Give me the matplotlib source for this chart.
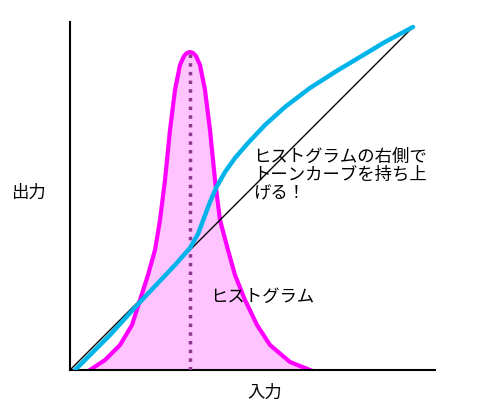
import matplotlib
matplotlib.use("Agg")
import matplotlib.pyplot as plt

plt.rcParams['font.family'] = ['Noto Sans CJK JP', 'DejaVu Sans']

# diagonal (identity) line
diag_x = [0, 343]
diag_y = [0, 343]

# tone curve
curve_x = [5, 40, 70, 105, 120, 128, 134, 140, 146, 155, 165, 178, 195, 215, 240, 265, 290, 315, 343]
curve_y = [0, 35, 68, 105, 122, 136, 152, 168, 182, 198, 212, 227, 245, 263, 282, 298, 313, 328, 343]

# histogram
hist_x = [20, 35, 50, 62, 70, 78, 85, 90, 95, 100, 105, 110, 114, 117, 120, 123, 126, 130, 135, 140, 145, 150, 158, 165, 175, 187, 200, 220, 240]
hist_y = [0, 10, 25, 45, 70, 95, 120, 150, 190, 240, 280, 305, 314, 317, 318, 317, 314, 305, 280, 240, 190, 150, 120, 95, 70, 45, 25, 8, 0]
peak_x = 120
peak_y = 318

fig = plt.figure(figsize=(4.8, 4.18), dpi=100)
ax = fig.add_axes([70/480, 48/418, 365/480, 348/418])

ax.fill_between(hist_x, hist_y, color='#FFC4FF', zorder=1)
ax.plot(hist_x, hist_y, color='#FF00FF', lw=3, zorder=2)
ax.plot([peak_x, peak_x], [0, peak_y], color='#8B3A8B', lw=2.5, ls=(0, (1, 1.5)), zorder=3)
ax.plot(diag_x, diag_y, color='black', lw=1, zorder=4)
ax.plot(curve_x, curve_y, color='#00B4EA', lw=3.2, solid_capstyle='round', zorder=5)

ax.set_xlim(0, 365)
ax.set_ylim(0, 348)
ax.set_xticks([])
ax.set_yticks([])
for s in ['top', 'right']:
    ax.spines[s].set_visible(False)
for s in ['left', 'bottom']:
    ax.spines[s].set_linewidth(1.5)
ax.patch.set_alpha(0)

fs = 12.5
fig.text(28/480, 1 - 193/418, "出力", fontsize=fs, va='center', ha='center')
fig.text(265/480, 1 - 393/418, "入力", fontsize=fs, va='center', ha='center')
fig.text(210/480, 1 - 297/418, "ヒストグラム", fontsize=fs, va='center', ha='left')
fig.text(253/480, 1 - 175/418, "ヒストグラムの右側で\nトーンカーブを持ち上\nげる！", fontsize=fs,
         va='center', ha='left', linespacing=1.0)

fig.savefig("out.png", dpi=100)
